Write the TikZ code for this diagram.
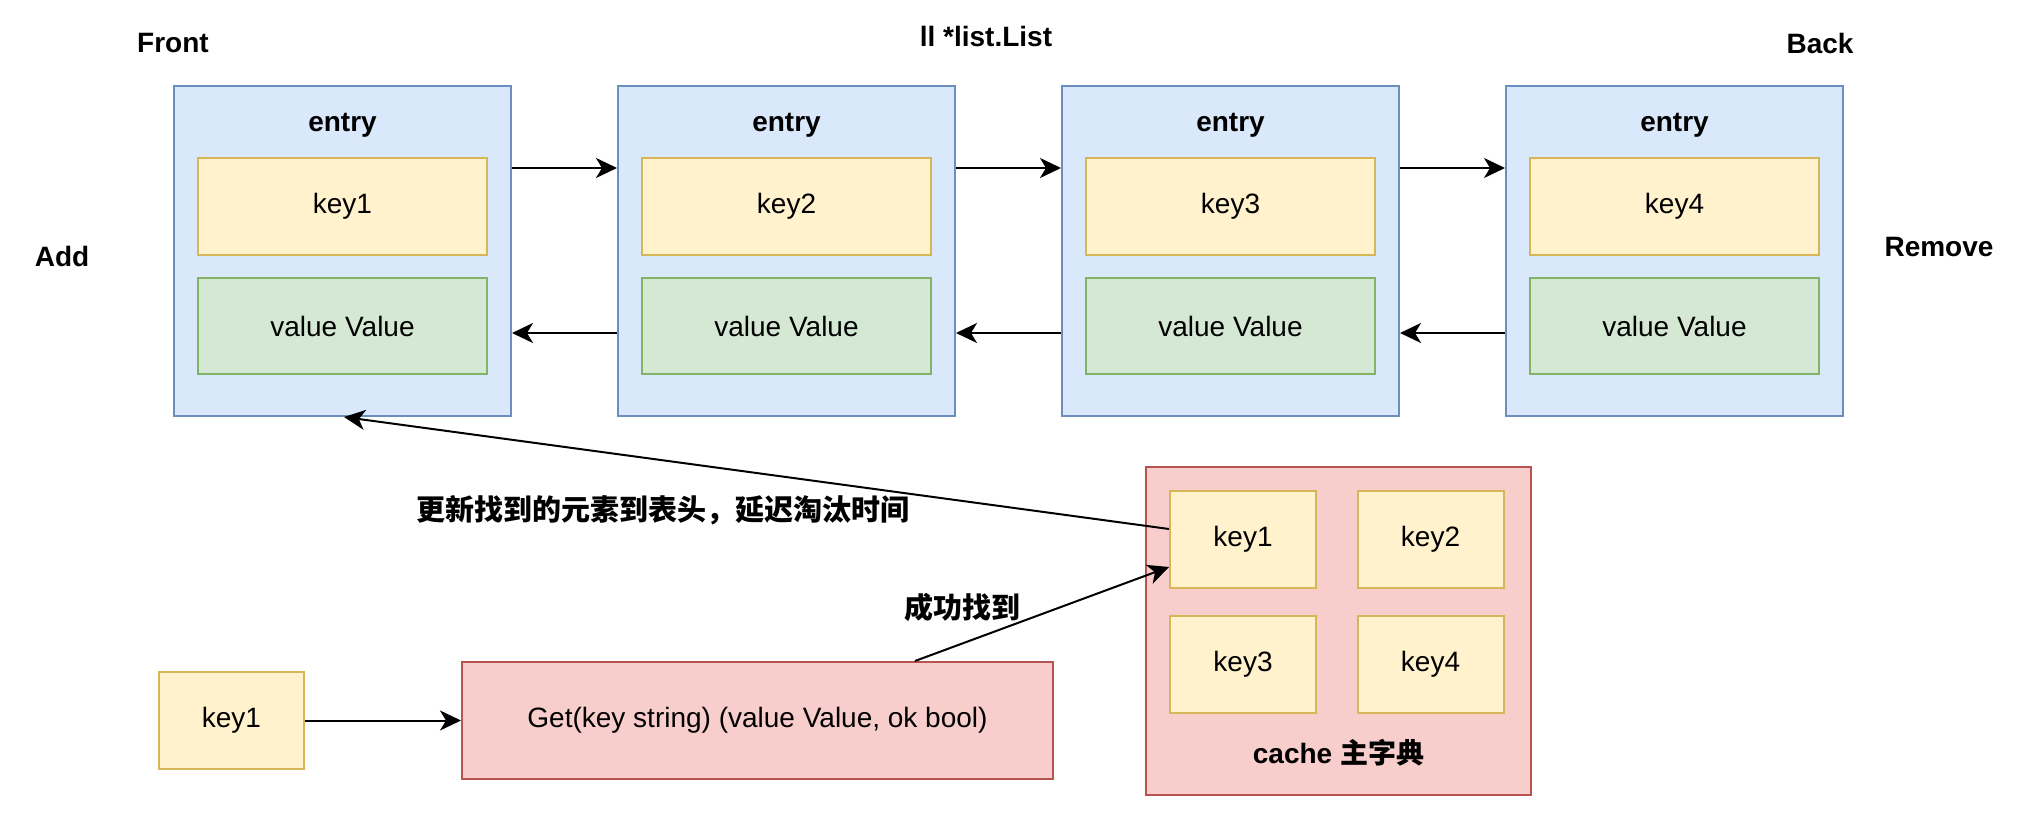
\documentclass[tikz,border=0pt]{standalone}
\usepackage{fontspec}
\setmainfont{Liberation Sans}
\newfontfamily\cjk{Noto Sans CJK SC}
\usetikzlibrary{arrows.meta,calc}
\definecolor{bfill}{HTML}{DAE8FC}\definecolor{bdraw}{HTML}{6C8EBF}
\definecolor{yfill}{HTML}{FFF2CC}\definecolor{ydraw}{HTML}{D6B656}
\definecolor{gfill}{HTML}{D5E8D4}\definecolor{gdraw}{HTML}{82B366}
\definecolor{rfill}{HTML}{F8CECC}\definecolor{rdraw}{HTML}{B85450}
\tikzset{
  base/.style={draw,line width=1pt,inner sep=0pt,font=\fontsize{14}{17}\selectfont},
  entrybox/.style={base,fill=bfill,draw=bdraw,minimum width=168.5pt,minimum height=165pt},
  keybox/.style={base,fill=yfill,draw=ydraw,minimum width=144.5pt,minimum height=48.5pt},
  valbox/.style={base,fill=gfill,draw=gdraw,minimum width=144.5pt,minimum height=48pt},
  smallkey/.style={base,fill=yfill,draw=ydraw,minimum width=73pt,minimum height=48.5pt},
  redbox/.style={base,fill=rfill,draw=rdraw},
  lbl/.style={font=\fontsize{14}{17}\selectfont\bfseries,inner sep=0pt},
  cjklbl/.style={font=\fontsize{14.5}{17}\selectfont\cjk\bfseries,inner sep=0pt},
  conn/.style={line width=1pt,-{Stealth[length=10.5pt,width=10pt,inset=3pt]}}
}
\begin{document}
\begin{tikzpicture}[x=0.5pt,y=-0.5pt]
\useasboundingbox (0,0) rectangle (2024,828);
% labels
\node[lbl] (front) at (173,43) {Front};
\node[lbl] (ll) at (986,36) {ll *list.List};
\node[lbl] (back) at (1820,43) {Back};
\node[lbl] (add) at (62,256) {Add};
\node[lbl] (remove) at (1939,247) {Remove};
% entries
\foreach \i/\x in {1/342.5,2/786.5,3/1230.5,4/1674.5}{
  \node[entrybox] (e\i) at (\x,251) {};
  \node[lbl] (et\i) at (\x,125) {entry};
  \node[keybox] (k\i) at (\x,206.5) {key\i};
  \node[valbox] (v\i) at (\x,326) {value Value};
}
\foreach \a/\b in {1/2,2/3,3/4}{
  \draw[conn] ([yshift=41.5pt]e\a.east) -- ([yshift=41.5pt]e\b.west);
  \draw[conn] ([yshift=-41pt]e\b.west) -- ([yshift=-41pt]e\a.east);
}
% bottom
\node[smallkey,minimum width=72.5pt] (bk) at (231.5,720.5) {key1};
\node[redbox,minimum width=295.5pt,minimum height=58.5pt] (get) at (757.5,720.5) {Get(key string) (value Value, ok bool)};
\node[redbox,minimum width=192.5pt,minimum height=164pt] (cache) at (1338.5,631) {};
\node[lbl] (cachelbl) at (1338.5,753) {cache {\cjk\bfseries 主字典}};
\node[smallkey] (c1) at (1243,539.5) {key1};
\node[smallkey] (c2) at (1430.5,539.5) {key2};
\node[smallkey] (c3) at (1243,664.5) {key3};
\node[smallkey] (c4) at (1430.5,664.5) {key4};
\draw[conn] (bk.east) -- (get.west);
\draw[conn] ([xshift=78.75pt]get.north) -- ([yshift=-13.75pt]c1.west);
\draw[conn] ([yshift=5.25pt]c1.west) -- ([xshift=0.75pt]e1.south);
\node[cjklbl] (found) at (962,607) {成功找到};
\node[cjklbl] (upd) at (663,510) {更新找到的元素到表头，延迟淘汰时间};
\end{tikzpicture}
\end{document}
